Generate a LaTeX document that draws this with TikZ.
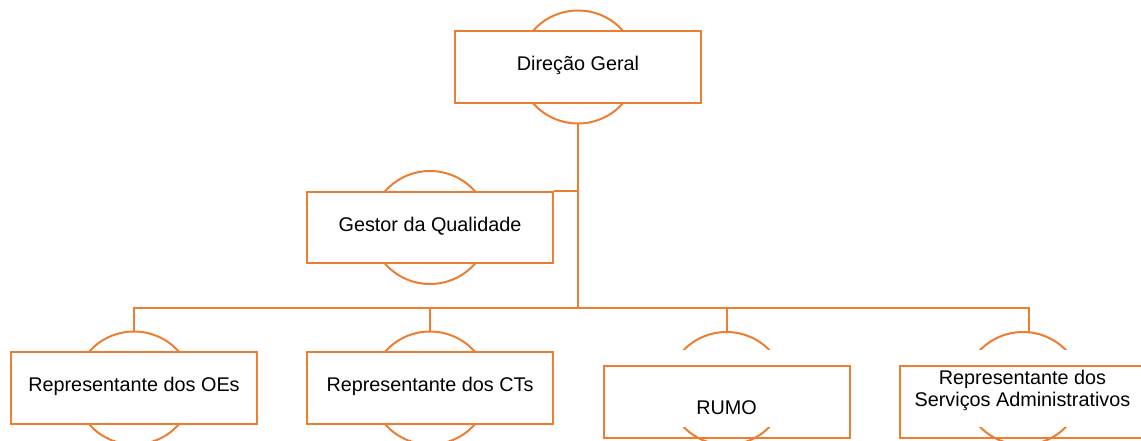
\documentclass[tikz,border=0pt]{standalone}
\usepackage{fontspec}
\setmainfont{Liberation Sans}
\usetikzlibrary{shapes.geometric}
\definecolor{org}{HTML}{ED7D31}
\begin{document}
\begin{tikzpicture}[x=1pt,y=-1pt,
  ring/.style={ellipse, draw=org, line width=2pt, minimum width=117pt, minimum height=113pt, inner sep=0pt},
  maskbox/.style={fill=white, inner sep=0pt, minimum width=246pt},
  orgbox/.style={draw=org, line width=2pt, inner sep=0pt, minimum width=246pt, minimum height=72pt, align=center, font=\fontsize{19.8}{21.5}\selectfont, text height=14pt, text depth=7pt},
  link/.style={draw=org, line width=2pt}]
\useasboundingbox (0,0) rectangle (1141,441);
\clip (0,0) rectangle (1141,441);
% Direcao Geral
\node[ring] (eDG) at (578,67) {};
\node[maskbox, minimum height=72pt] (mDG) at (578,67) {};
\node[orgbox] (dg) at (578,67) {Direção Geral};
% Gestor da Qualidade
\node[ring] (eGQ) at (430,227.5) {};
\node[maskbox, minimum height=71pt] (mGQ) at (430,227.5) {};
\node[orgbox, minimum height=71pt] (gq) at (430,227.5) {Gestor da Qualidade};
% Representante dos OEs
\node[ring] (eOE) at (134,388) {};
\node[maskbox, minimum height=72pt] (mOE) at (134,388) {};
\node[orgbox] (oe) at (134,388) {Representante dos OEs};
% Representante dos CTs
\node[ring] (eCT) at (430,388) {};
\node[maskbox, minimum height=72pt] (mCT) at (430,388) {};
\node[orgbox] (ct) at (430,388) {Representante dos CTs};
% RUMO
\node[ring] (eRU) at (726.5,388.5) {};
\node[maskbox, minimum height=77pt] (mRU) at (726.5,388.5) {};
\node[orgbox, text height=24pt, text depth=0pt] (ru) at (726.5,402) {RUMO};
% Servicos Administrativos
\node[ring] (eSA) at (1023,388.5) {};
\node[maskbox, minimum height=77pt] (mSA) at (1023,388.5) {};
\node[orgbox, text height=8pt, text depth=0pt] (sa) at (1022.5,402) {Representante dos\\Serviços Administrativos};
% connectors
\coordinate (bus) at (578,308);
\coordinate (dSA) at (1029,332.5);
\draw[link] (eDG.south) -- (bus);
\draw[link] (gq.north east) -- (gq.north east -| bus);
\draw[link] (eOE.north) |- (dSA |- bus) -- (dSA);
\draw[link] (eCT.north) -- (eCT.north |- bus);
\draw[link] (eRU.north) -- (eRU.north |- bus);
\end{tikzpicture}
\end{document}
